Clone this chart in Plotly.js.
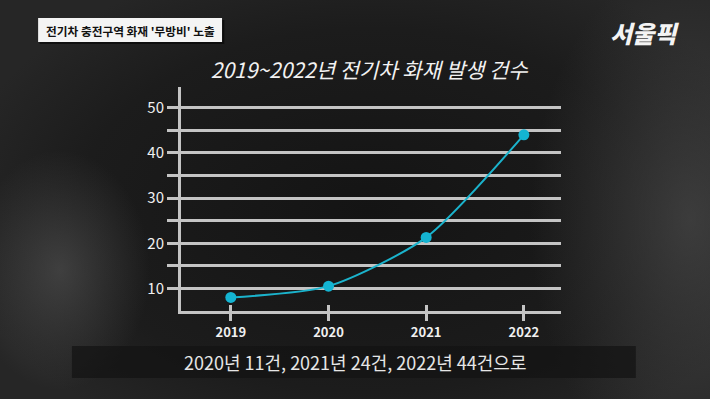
<!DOCTYPE html>
<html><head><meta charset="utf-8">
<script src="https://cdn.plot.ly/plotly-3.0.1.min.js"></script>
<style>
html,body{margin:0;padding:0;width:710px;height:399px;overflow:hidden;}
body{background:
 radial-gradient(ellipse 90px 120px at 60px 270px, rgba(90,90,90,0.55), rgba(90,90,90,0) 100%),
 radial-gradient(ellipse 160px 260px at 690px 220px, rgba(80,80,80,0.6), rgba(80,80,80,0) 100%),
 radial-gradient(ellipse 420px 260px at 370px 210px, #141414, #1c1c1c 70%, #262626 100%);}
#chart{width:710px;height:399px;}
</style></head>
<body><div id="chart"></div>
<script>
const years = ['2019','2020','2021','2022'];
const fires = [8, 10.5, 21.3, 44];
const yTickVals = [10,15,20,25,30,35,40,45,50];
const yTickText = ['10','','20','','30','','40','','50'];
const titleText = '2019~2022년 전기차 화재 발생 건수';
const tagText = "전기차 충전구역 화재 '무방비' 노출";
const captionText = '2020년 11건, 2021년 24건, 2022년 44건으로';
const logoText = '서울픽';

const font = 'Noto Sans CJK KR, Noto Sans, sans-serif';
const gridCol = '#c4c4c4';

const layout = {
  width: 710, height: 399,
  margin: {l: 181, r: 149, t: 87, b: 88},
  paper_bgcolor: 'rgba(0,0,0,0)', plot_bgcolor: 'rgba(0,0,0,0)',
  showlegend: false,
  font: {family: font, color: '#ececec'},
  title: {text: titleText, x: 0.52, xanchor: 'center', y: 0.823, yanchor: 'middle',
          font: {family: font, size: 21, color: '#f2f2f2', style: 'italic'}},
  xaxis: {type: 'category', range: [-0.51, 3.38], showgrid: false, zeroline: false,
          showline: true, linecolor: gridCol, linewidth: 3,
          ticks: 'outside', ticklen: 7, tickwidth: 3, tickcolor: gridCol,
          tickfont: {family: font, size: 13, color: '#f0f0f0', weight: 600}, fixedrange: true},
  xaxis2: {type: 'category', overlaying: 'x', matches: 'x', range: [-0.51, 3.38], side: 'bottom',
           showgrid: false, zeroline: false, showline: false, showticklabels: false,
           ticks: 'inside', ticklen: 6, tickwidth: 3, tickcolor: gridCol, anchor: 'y'},
  yaxis: {range: [5, 54.6], tickvals: yTickVals, ticktext: yTickText,
          showgrid: true, gridcolor: gridCol, gridwidth: 3, zeroline: false,
          showline: true, linecolor: gridCol, linewidth: 3,
          ticks: 'outside', ticklen: 11, tickwidth: 3, tickcolor: gridCol,
          tickfont: {family: font, size: 15, color: '#f0f0f0'}, fixedrange: true},
  shapes: [
    {type: 'rect', xref: 'paper', yref: 'paper', x0: -0.287, x1: 1.197, y0: -0.299, y1: -0.156,
     line: {width: 0}, fillcolor: 'rgba(18,18,18,0.7)', layer: 'below'},
    {type: 'rect', xref: 'paper', yref: 'paper', x0: -0.372, x1: 0.114, y0: 1.192, y1: 1.299,
     line: {width: 0}, fillcolor: 'rgba(0,0,0,0.55)', layer: 'below'},
    {type: 'rect', xref: 'paper', yref: 'paper', x0: -0.376, x1: 0.108, y0: 1.201, y1: 1.308,
     line: {width: 0}, fillcolor: '#f4f4f4', layer: 'above'}
  ],
  annotations: [
    {text: tagText, xref: 'paper', yref: 'paper', x: -0.134, y: 1.254, xanchor: 'center', yanchor: 'middle',
     showarrow: false, font: {family: font, size: 11.7, color: '#111', weight: 700}},
    {text: captionText, xref: 'paper', yref: 'paper', x: 0.458, y: -0.228, xanchor: 'center', yanchor: 'middle',
     showarrow: false, font: {family: font, size: 18, color: '#e6e6e6'}},
    {text: logoText, xref: 'paper', yref: 'paper', x: 1.22, y: 1.245, xanchor: 'center', yanchor: 'middle',
     showarrow: false, font: {family: font, size: 24, color: '#f4f4f4', weight: 900, style: 'italic'}}
  ]
};

const traces = [
  {x: years, y: fires, type: 'scatter', mode: 'lines+markers',
   line: {color: '#1bb3cc', width: 2, shape: 'spline', smoothing: 0.7},
   marker: {color: '#14b4d2', size: 11}, hoverinfo: 'skip'},
  {x: years, y: fires, xaxis: 'x2', type: 'scatter', mode: 'none', hoverinfo: 'skip'}
];

Plotly.newPlot('chart', traces, layout, {displayModeBar: false, staticPlot: true});
</script></body></html>
